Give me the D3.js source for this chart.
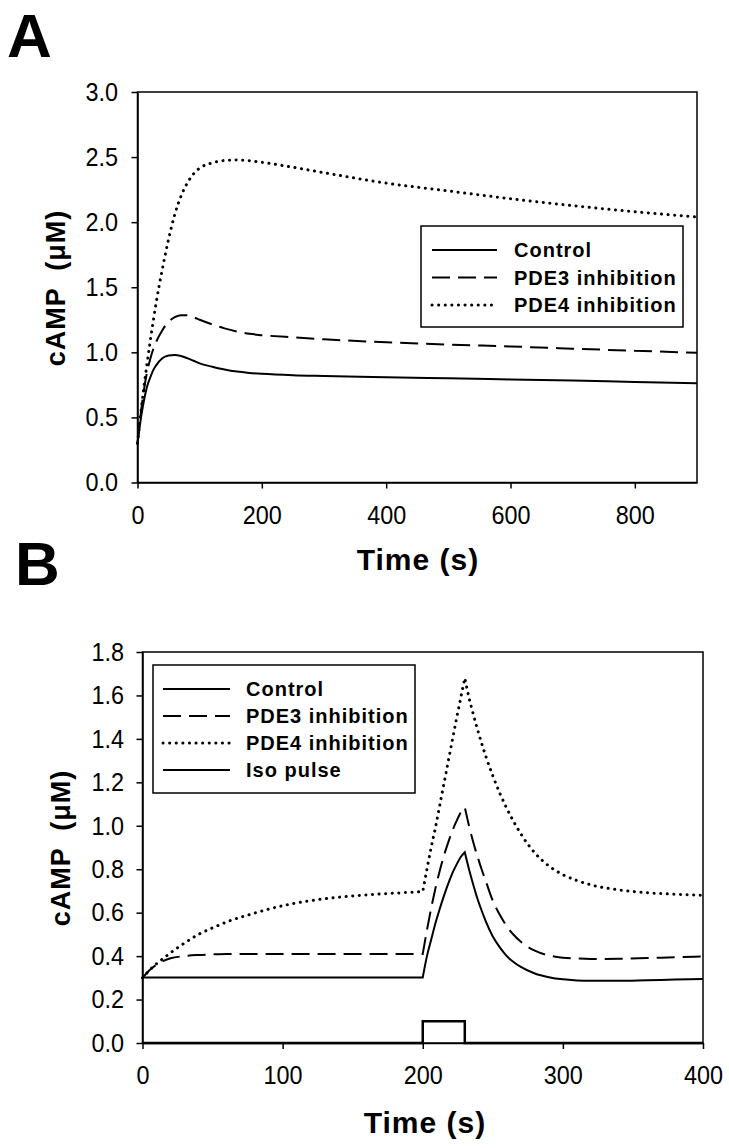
<!DOCTYPE html>
<html><head><meta charset="utf-8">
<script src="https://cdn.jsdelivr.net/npm/d3@7"></script>
<style>
body{margin:0;background:#fff}
svg{display:block}
text{font-family:"Liberation Sans",Arial,Helvetica,sans-serif;fill:#000}
</style>
</head><body>
<svg id="c" width="729" height="1148"></svg>
<script>
// ---------- Panel A data ----------
const timeA    = [0,5,10,15,20,25,30,40,50,60,70,80,90,100,120,140,160,180,200,250,300,400,500,600,700,800,900];
const controlA = [0.30,0.48,0.62,0.73,0.80,0.86,0.90,0.955,0.975,0.98,0.972,0.955,0.935,0.915,0.89,0.868,0.852,0.842,0.835,0.824,0.818,0.808,0.80,0.792,0.783,0.772,0.762];
const pde3A    = [0.30,0.52,0.70,0.84,0.94,1.02,1.08,1.17,1.235,1.27,1.285,1.285,1.27,1.25,1.215,1.184,1.16,1.142,1.132,1.115,1.10,1.077,1.06,1.045,1.028,1.012,0.997];
const pde4A    = [0.30,0.52,0.72,0.90,1.07,1.23,1.38,1.64,1.87,2.06,2.20,2.30,2.37,2.415,2.455,2.474,2.478,2.472,2.46,2.422,2.38,2.30,2.24,2.18,2.127,2.08,2.04];
const xTicksA  = [0,200,400,600,800];
const yTicksA  = [0,0.5,1.0,1.5,2.0,2.5,3.0];
const legendA  = ["Control","PDE3 inhibition","PDE4 inhibition"];

// ---------- Panel B data ----------
const timeB    = [0,5,10,15,20,30,40,50,60,80,100,125,150,175,200,203,206,209,212,215,218,221,224,227,230,233,236,239,242,245,250,255,260,265,270,280,290,300,310,320,340,360,380,400];
const controlB = [0.302,0.302,0.302,0.302,0.302,0.302,0.302,0.302,0.302,0.302,0.302,0.302,0.302,0.302,0.302,0.40,0.475,0.55,0.615,0.675,0.73,0.78,0.82,0.855,0.878,0.80,0.73,0.665,0.61,0.56,0.49,0.44,0.40,0.372,0.35,0.32,0.303,0.293,0.288,0.286,0.286,0.289,0.292,0.295];
const pde3B    = [0.30,0.335,0.36,0.378,0.39,0.40,0.405,0.408,0.41,0.41,0.41,0.41,0.41,0.41,0.41,0.52,0.62,0.71,0.79,0.86,0.92,0.975,1.02,1.06,1.085,1.0,0.925,0.86,0.80,0.745,0.655,0.59,0.537,0.497,0.466,0.425,0.403,0.393,0.389,0.387,0.388,0.391,0.395,0.398];
const pde4B    = [0.30,0.335,0.365,0.39,0.415,0.46,0.50,0.53,0.557,0.598,0.632,0.66,0.677,0.688,0.697,0.80,0.90,0.99,1.09,1.19,1.29,1.39,1.49,1.585,1.68,1.59,1.515,1.445,1.38,1.32,1.23,1.15,1.08,1.018,0.963,0.875,0.815,0.775,0.748,0.728,0.705,0.692,0.685,0.68];
const timeIso  = [0,200,200,230,230,400];
const isoPulse = [0,0,0.1,0.1,0,0];
const xTicksB  = [0,100,200,300,400];
const yTicksB  = [0,0.2,0.4,0.6,0.8,1.0,1.2,1.4,1.6,1.8];
const legendB  = ["Control","PDE3 inhibition","PDE4 inhibition","Iso pulse"];

// ---------- drawing ----------
const svg = d3.select("#c");
const STY = {
  solid:{dash:null,w:2,cap:"butt"},
  dash:{dash:"18,8",w:2,cap:"butt"},
  dot:{dash:"0.1,6.5",w:3,cap:"round"},
  iso:{dash:null,w:2.5,cap:"butt"}
};
const TICK_FS = 26, TICK_SX = 0.9;

function smoothPath(pts, breaks, x, y){
  const gen = d3.line().x(p=>x(p[0])).y(p=>y(p[1])).curve(d3.curveMonotoneX);
  const cuts = [pts[0][0], ...breaks, pts[pts.length-1][0]];
  let d = "";
  for(let i=0;i<cuts.length-1;i++){
    const seg = pts.filter(p=>p[0]>=cuts[i] && p[0]<=cuts[i+1]);
    let s = gen(seg);
    if(i>0) s = "L" + s.slice(1);
    d += s;
  }
  return d;
}

function panel(o){
  const x = d3.scaleLinear().domain(o.xDomain).range([o.left,o.right]);
  const y = d3.scaleLinear().domain(o.yDomain).range([o.bottom,o.top]);
  const g = svg.append("g");

  // series
  o.series.forEach(s=>{
    const pts = s.t.map((t,i)=>[t,s.v[i]]);
    const d = s.linear ? d3.line().x(p=>x(p[0])).y(p=>y(p[1]))(pts)
                       : smoothPath(pts, o.breaks, x, y);
    const st = STY[s.style];
    g.append("path").attr("d",d).attr("fill","none").attr("stroke","#000")
      .attr("stroke-width",st.w).attr("stroke-linecap",st.cap)
      .attr("stroke-linejoin","miter")
      .attr("stroke-dasharray",st.dash);
  });

  // frame
  g.append("rect").attr("x",o.left).attr("y",o.top)
    .attr("width",o.right-o.left).attr("height",o.bottom-o.top)
    .attr("fill","none").attr("stroke","#000").attr("stroke-width",1.5);

  // axes
  const ax = g.append("g").attr("transform",`translate(0,${o.bottom})`)
    .call(d3.axisBottom(x).tickValues(o.xTicks).tickSize(6).tickSizeOuter(0).tickPadding(17).tickFormat(d3.format("d")));
  const ay = g.append("g").attr("transform",`translate(${o.left},0)`)
    .call(d3.axisLeft(y).tickValues(o.yTicks).tickSize(6).tickSizeOuter(0).tickPadding(13).tickFormat(d3.format(".1f")));
  [ax,ay].forEach(a=>{
    a.select(".domain").attr("stroke","#000").attr("stroke-width",1.5);
    a.selectAll(".tick line").attr("stroke","#000").attr("stroke-width",1.5);
    a.selectAll(".tick text").attr("font-size",TICK_FS).attr("font-family",null)
      .attr("fill","#000").attr("transform",`scale(${TICK_SX},1)`);
  });
  ay.selectAll(".tick text").attr("x", -o.yLabGap/TICK_SX);

  // axis titles
  g.append("text").attr("x",o.xLabelX).attr("y",o.xLabelY).attr("text-anchor","middle")
    .attr("font-size",30).attr("font-weight","bold").style("letter-spacing","1px")
    .text("Time (s)");
  g.append("text").attr("transform",`translate(${o.yLabelX},${o.yLabelY}) rotate(-90)`)
    .attr("text-anchor","middle").attr("font-size",27).attr("font-weight","bold")
    .style("letter-spacing","1px").style("white-space","pre")
    .text("cAMP  (\u03BCM)");

  // panel letter
  g.append("text").attr("x",o.letterX).attr("y",o.letterY)
    .attr("font-size",62).attr("font-weight","bold").text(o.letter);

  // legend
  const L = o.legend;
  g.append("rect").attr("x",L.x0).attr("y",L.y0).attr("width",L.x1-L.x0).attr("height",L.y1-L.y0)
    .attr("fill","#fff").attr("stroke","#000").attr("stroke-width",1.5);
  L.labels.forEach((lab,i)=>{
    const cy = L.firstY + i*L.step;
    const st = STY[L.styles[i]];
    g.append("line").attr("x1",L.lx0).attr("x2",L.lx1).attr("y1",cy).attr("y2",cy)
      .attr("stroke","#000").attr("stroke-width",L.styles[i]==="dot"?3:2)
      .attr("stroke-linecap",st.cap).attr("stroke-dasharray",st.dash);
    g.append("text").attr("x",L.tx).attr("y",cy+7).attr("font-size",20)
      .attr("font-weight","bold").style("letter-spacing","1px").text(lab);
  });
}

panel({
  letter:"A", letterX:7, letterY:57,
  xDomain:[0,900], yDomain:[0,3],
  left:137.5, right:697, top:92, bottom:482.5,
  xTicks:xTicksA, yTicks:yTicksA, breaks:[], yLabGap:19.5,
  xLabelX:418, xLabelY:570, yLabelX:65, yLabelY:288,
  series:[
    {t:timeA, v:controlA, style:"solid"},
    {t:timeA, v:pde3A, style:"dash"},
    {t:timeA, v:pde4A, style:"dot"}
  ],
  legend:{x0:421,y0:226,x1:683,y1:327,lx0:432,lx1:497,tx:514,firstY:250,step:27.5,
          labels:legendA, styles:["solid","dash","dot"]}
});

panel({
  letter:"B", letterX:15, letterY:585,
  xDomain:[0,400], yDomain:[0,1.8],
  left:142.5, right:703, top:652, bottom:1043,
  xTicks:xTicksB, yTicks:yTicksB, breaks:[200,230], yLabGap:18.5,
  xLabelX:425, xLabelY:1133, yLabelX:70, yLabelY:848,
  series:[
    {t:timeB, v:controlB, style:"solid"},
    {t:timeB, v:pde3B, style:"dash"},
    {t:timeB, v:pde4B, style:"dot"},
    {t:timeIso, v:isoPulse, style:"iso", linear:true}
  ],
  legend:{x0:153,y0:665,x1:415,y1:793,lx0:163,lx1:230,tx:246,firstY:689,step:27,
          labels:legendB, styles:["solid","dash","dot","solid"]}
});
</script>
</body></html>
